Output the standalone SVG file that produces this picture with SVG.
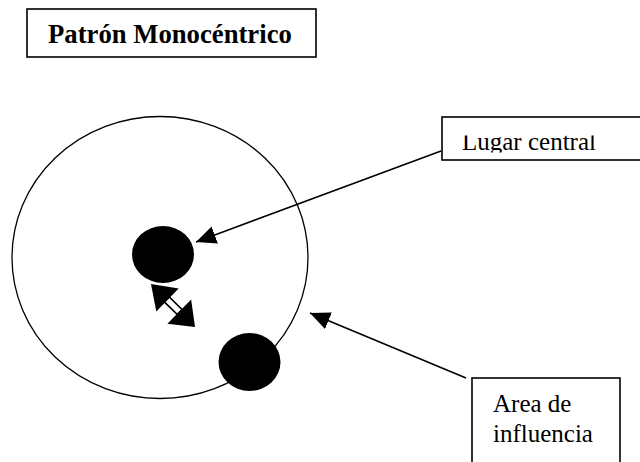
<svg xmlns="http://www.w3.org/2000/svg" width="640" height="462" viewBox="0 0 640 462">
  <style>
    .box { fill: #fff; stroke: #000; stroke-width: 1.6; }
    .lbl { font-family: "Liberation Serif", "Times New Roman", serif; font-size: 25px; fill: #000; }
    .title { font-family: "Liberation Serif", "Times New Roman", serif; font-size: 26.7px; font-weight: bold; fill: #000; }
    .conn { stroke: #000; stroke-width: 1.6; fill: none; }
  </style>
  <defs>
    <marker id="ah" markerUnits="userSpaceOnUse" markerWidth="22" markerHeight="20" refX="20" refY="9" orient="auto">
      <path d="M0,0 L20,9 L0,18 Z" fill="#000"/>
    </marker>
    <clipPath id="clipLugar">
      <rect x="442" y="135.5" width="198" height="17"/>
    </clipPath>
  </defs>
  <rect width="640" height="462" fill="#fff"/>

  <g id="title">
    <rect class="box" x="27" y="9" width="289" height="48"/>
    <text class="title" x="48" y="43">Patrón Monocéntrico</text>
  </g>

  <g id="area-circle">
    <ellipse cx="160" cy="257.5" rx="148" ry="141" fill="none" stroke="#000" stroke-width="1.3"/>
  </g>

  <g id="central-place">
    <ellipse cx="163" cy="254.5" rx="31" ry="28.5" fill="#000"/>
  </g>

  <g id="secondary-place">
    <ellipse cx="249.5" cy="362" rx="31" ry="29" fill="#000"/>
  </g>

  <g id="lugar-central">
    <rect class="box" x="442" y="117" width="210" height="43"/>
    <text class="lbl" x="462" y="150" clip-path="url(#clipLugar)">Lugar central</text>
  </g>

  <g id="area-influencia">
    <rect class="box" x="472" y="378" width="148" height="100"/>
    <text class="lbl" x="493" y="412">Area de</text>
    <text class="lbl" x="493" y="442">influencia</text>
  </g>

  <g id="connectors">
    <line class="conn" x1="441" y1="151" x2="196" y2="242" marker-end="url(#ah)"/>
    <line class="conn" x1="466" y1="378" x2="310" y2="313" marker-end="url(#ah)"/>
    <g transform="translate(151,284) rotate(44.3)">
      <rect x="22" y="-3.5" width="18" height="7" fill="#fff" stroke="#000" stroke-width="1.6"/>
      <path d="M0,0 L23,-16 L23,16 Z" fill="#000"/>
      <path d="M61.5,0 L39.5,-17 L39.5,17 Z" fill="#000"/>
    </g>
  </g>
</svg>
